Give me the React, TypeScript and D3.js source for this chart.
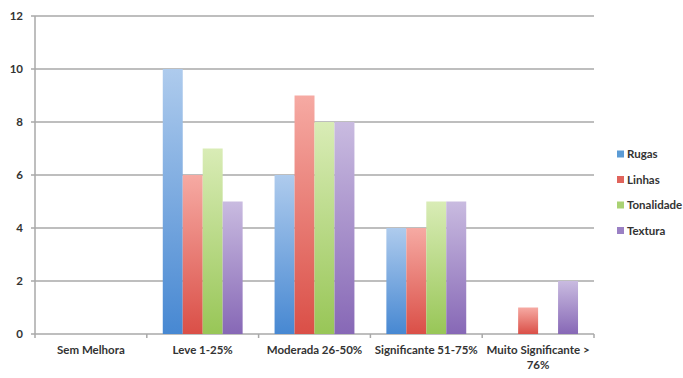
import React from "react";
import * as d3 from "d3";

const categories = ["Sem Melhora", "Leve 1-25%", "Moderada 26-50%", "Significante 51-75%", "Muito Significante > 76%"];
const seriesNames = ["Rugas", "Linhas", "Tonalidade", "Textura"];
const rugas = [0, 10, 6, 4, 0];
const linhas = [0, 6, 9, 4, 1];
const tonalidade = [0, 7, 8, 5, 0];
const textura = [0, 5, 8, 5, 2];
const yTicks = [0, 2, 4, 6, 8, 10, 12];
const seriesValues = [rugas, linhas, tonalidade, textura];
const colorsTop = ["#aecbed", "#f6aaa3", "#d9ecb6", "#c9bbe0"];
const colorsBottom = ["#4788d2", "#da4f47", "#98c657", "#8768b6"];
const legendColors = ["#5b9bd5", "#e0645c", "#a9d273", "#9a80c4"];

const W = 683, H = 378;
const left = 35, right = 594, top = 16, bottom = 334;

export default function App() {
  const x = d3.scaleBand<string>().domain(categories).range([left, right]).paddingInner(0).paddingOuter(0);
  const inner = d3.scaleBand<string>().domain(seriesNames).range([0, x.bandwidth()]).paddingInner(0).paddingOuter(0.8);
  const y = d3.scaleLinear().domain([0, 12]).range([bottom, top]);
  const font = "Lato, 'DejaVu Sans', sans-serif";
  const tickXs = categories.map((c) => x(c)!).concat([right]);

  return (
    <svg width={W} height={H} style={{ position: "absolute", left: 0, top: 0, background: "#fff" }}>
      <defs>
        {seriesNames.map((s, i) => (
          <linearGradient key={s} id={`g${i}`} x1="0" y1="0" x2="0" y2="1">
            <stop offset="0%" stopColor={colorsTop[i]} />
            <stop offset="100%" stopColor={colorsBottom[i]} />
          </linearGradient>
        ))}
      </defs>
      {yTicks.map((t) => (
        <g key={t}>
          <line x1={left} x2={right} y1={y(t)} y2={y(t)} stroke="#a8a8a8" strokeWidth={1.5} />
          <line x1={left - 4} x2={left} y1={y(t)} y2={y(t)} stroke="#a8a8a8" strokeWidth={1.5} />
          <text x={left - 12} y={y(t)} dy="0.35em" textAnchor="end" fontFamily={font} fontSize={11.5} fontWeight={700} fill="#333">{t}</text>
        </g>
      ))}
      <line x1={left} x2={left} y1={top} y2={bottom} stroke="#a8a8a8" strokeWidth={1.5} />
      {tickXs.map((tx, i) => (
        <line key={i} x1={tx} x2={tx} y1={bottom} y2={bottom + 4} stroke="#a8a8a8" strokeWidth={1.5} />
      ))}
      {categories.map((c, ci) => (
        <g key={c}>
          {seriesNames.map((s, si) => {
            const v = seriesValues[si][ci];
            if (v <= 0) return null;
            return (
              <rect key={s} x={x(c)! + inner(s)!} width={inner.bandwidth()} y={y(v)} height={y(0) - y(v)} fill={`url(#g${si})`} />
            );
          })}
        </g>
      ))}
      {categories.map((c) => {
        const cx = x(c)! + x.bandwidth() / 2;
        const lines = c === "Muito Significante > 76%" ? ["Muito Significante >", "76%"] : [c];
        return (
          <text key={c} x={cx} y={bottom + 20} textAnchor="middle" fontFamily={font} fontSize={11.5} fontWeight={700} fill="#333">
            {lines.map((l, i) => (
              <tspan key={i} x={cx} dy={i === 0 ? 0 : 15}>{l}</tspan>
            ))}
          </text>
        );
      })}
      {seriesNames.map((s, i) => (
        <g key={s} transform={`translate(617, ${154 + i * 25.5})`}>
          <rect x={0} y={-3.5} width={7} height={7} fill={legendColors[i]} />
          <text x={10} y={0} dy="0.35em" fontFamily={font} fontSize={11.5} fontWeight={700} fill="#333">{s}</text>
        </g>
      ))}
    </svg>
  );
}
